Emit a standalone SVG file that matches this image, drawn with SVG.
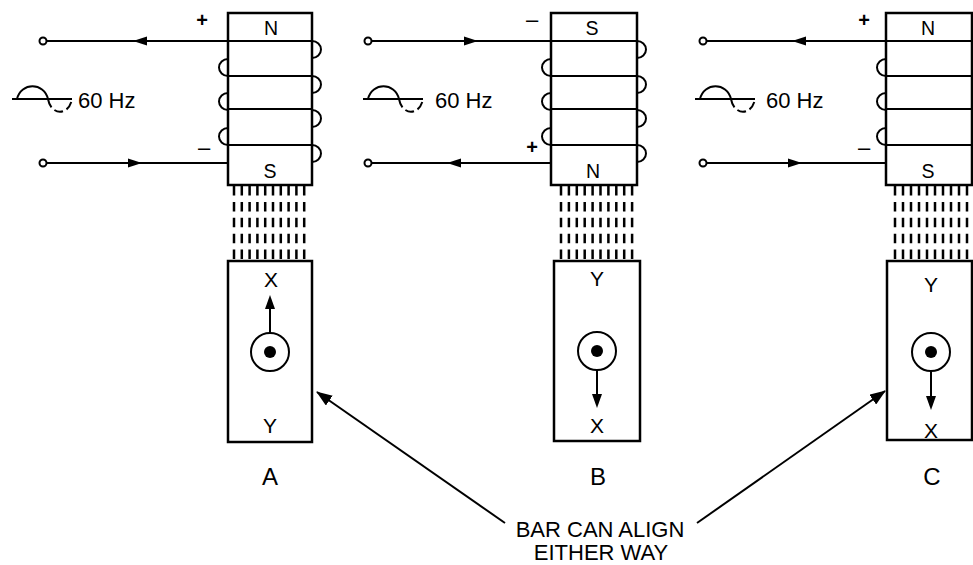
<svg xmlns="http://www.w3.org/2000/svg" width="973" height="565" viewBox="0 0 973 565">
<defs>
<style>
.ln{stroke:#000;stroke-width:2;fill:none}
.core{stroke:#000;stroke-width:2.5;fill:#fff}
.flux{stroke:#000;stroke-width:2.5;stroke-dasharray:9.5 6.4;fill:none}
.ah{fill:#000;stroke:none}
.term{stroke:#000;stroke-width:2;fill:#fff}
text{font-family:"Liberation Sans",Arial,sans-serif;fill:#000}
.pole{font-size:19.5px;text-anchor:middle}
.bl{font-size:21px;text-anchor:middle}
.hz{font-size:22px}
.sp{font-size:20px;text-anchor:middle;font-weight:bold}
.sm{font-size:22px;text-anchor:middle}
.pl{font-size:24px;text-anchor:middle}
.note{font-size:22px;text-anchor:middle}
</style>
<marker id="arr" viewBox="0 0 16 12" refX="15" refY="6" markerWidth="16" markerHeight="12" markerUnits="userSpaceOnUse" orient="auto">
<path d="M0,0 L16,6 L0,12 Z" fill="#000"/>
</marker>
<g id="sine">
<line x1="0" y1="0" x2="60" y2="0" class="ln"/>
<path d="M5,0 C9,-17 32,-17 36,0" class="ln"/>
<path d="M36,0 C39,17 57,17 60,0" class="ln" stroke-dasharray="9 4"/>
</g>
</defs>

<g id="panelA">
<g id="coreA">
<rect x="228" y="13" width="84" height="172" class="core"/>
<line x1="228" y1="41" x2="312" y2="41" class="ln"/>
<line x1="228" y1="76" x2="312" y2="76" class="ln"/>
<line x1="228" y1="109" x2="312" y2="109" class="ln"/>
<line x1="228" y1="145" x2="312" y2="145" class="ln"/>
<path d="M312,41 A9,8.5 0 0 1 312,58 M312,76 A9,8.5 0 0 1 312,93 M312,110 A9,8.5 0 0 1 312,127 M312,145 A9,8.5 0 0 1 312,162" class="ln"/>
<path d="M228,59 A9,8.5 0 0 0 228,76 M228,93 A9,8.5 0 0 0 228,110 M228,128 A9,8.5 0 0 0 228,145" class="ln"/>
<text x="271" y="35" class="pole">N</text>
<text x="270" y="178" class="pole">S</text>
</g>
<g id="wiresA">
<line x1="46" y1="41" x2="228" y2="41" class="ln"/>
<line x1="46" y1="163" x2="228" y2="163" class="ln"/>
<circle cx="43" cy="41" r="3.5" class="term"/>
<circle cx="43" cy="163" r="3.5" class="term"/>
<path d="M133,41 L147,36.5 L147,45.5 Z" class="ah"/>
<path d="M142,163 L128,158.5 L128,167.5 Z" class="ah"/>
<text x="202" y="27" class="sp">+</text>
<text x="204" y="155" class="sm">–</text>
<use href="#sine" x="12" y="99"/>
<text x="78" y="108" class="hz">60 Hz</text>
</g>
<g id="fluxA">
<path d="M234,186 V261 M241.8,186 V261 M249.6,186 V261 M257.4,186 V261 M265.2,186 V261 M273,186 V261 M280.8,186 V261 M288.6,186 V261 M296.4,186 V261 M304.2,186 V261" class="flux"/>
</g>
<g id="barA">
<rect x="228" y="261" width="84" height="181" class="core"/>
<text x="271" y="287" class="bl">X</text>
<circle cx="270" cy="352" r="19" class="ln"/>
<circle cx="270" cy="352" r="6" fill="#000"/>
<line x1="270" y1="333" x2="270" y2="305" class="ln"/>
<path d="M270,295 L265,309 L275,309 Z" class="ah"/>
<text x="270" y="433" class="bl">Y</text>
</g>
<text x="270" y="485" class="pl">A</text>
</g>

<g id="panelB">
<g id="coreB">
<rect x="551" y="13" width="86" height="172" class="core"/>
<line x1="551" y1="41" x2="637" y2="41" class="ln"/>
<line x1="551" y1="76" x2="637" y2="76" class="ln"/>
<line x1="551" y1="109" x2="637" y2="109" class="ln"/>
<line x1="551" y1="145" x2="637" y2="145" class="ln"/>
<path d="M637,41 A9,8.5 0 0 1 637,58 M637,76 A9,8.5 0 0 1 637,93 M637,110 A9,8.5 0 0 1 637,127 M637,145 A9,8.5 0 0 1 637,162" class="ln"/>
<path d="M551,59 A9,8.5 0 0 0 551,76 M551,93 A9,8.5 0 0 0 551,110 M551,128 A9,8.5 0 0 0 551,145" class="ln"/>
<text x="592" y="35" class="pole">S</text>
<text x="593" y="178" class="pole">N</text>
</g>
<g id="wiresB">
<line x1="371" y1="41" x2="551" y2="41" class="ln"/>
<line x1="371" y1="163" x2="551" y2="163" class="ln"/>
<circle cx="368" cy="41" r="3.5" class="term"/>
<circle cx="368" cy="163" r="3.5" class="term"/>
<path d="M478,41 L464,36.5 L464,45.5 Z" class="ah"/>
<path d="M447,163 L461,158.5 L461,167.5 Z" class="ah"/>
<text x="532" y="27" class="sm">–</text>
<text x="532" y="154" class="sp">+</text>
<use href="#sine" x="363" y="99"/>
<text x="435" y="108" class="hz">60 Hz</text>
</g>
<g id="fluxB">
<path d="M561,186 V261 M568.9,186 V261 M576.8,186 V261 M584.7,186 V261 M592.6,186 V261 M600.5,186 V261 M608.4,186 V261 M616.3,186 V261 M624.2,186 V261 M632.1,186 V261" class="flux"/>
</g>
<g id="barB">
<rect x="554" y="261" width="86" height="180" class="core"/>
<text x="597" y="286" class="bl">Y</text>
<circle cx="597" cy="351" r="19" class="ln"/>
<circle cx="597" cy="351" r="6" fill="#000"/>
<line x1="597" y1="370" x2="597" y2="398" class="ln"/>
<path d="M597,408 L592,394 L602,394 Z" class="ah"/>
<text x="597" y="433" class="bl">X</text>
</g>
<text x="598" y="485" class="pl">B</text>
</g>

<g id="panelC">
<g id="coreC">
<rect x="886" y="13" width="86" height="172" class="core"/>
<line x1="886" y1="41" x2="972" y2="41" class="ln"/>
<line x1="886" y1="76" x2="972" y2="76" class="ln"/>
<line x1="886" y1="109" x2="972" y2="109" class="ln"/>
<line x1="886" y1="145" x2="972" y2="145" class="ln"/>
<path d="M886,59 A9,8.5 0 0 0 886,76 M886,93 A9,8.5 0 0 0 886,110 M886,128 A9,8.5 0 0 0 886,145" class="ln"/>
<text x="928" y="35" class="pole">N</text>
<text x="928" y="178" class="pole">S</text>
</g>
<g id="wiresC">
<line x1="706" y1="41" x2="886" y2="41" class="ln"/>
<line x1="706" y1="163" x2="886" y2="163" class="ln"/>
<circle cx="703" cy="41" r="3.5" class="term"/>
<circle cx="703" cy="163" r="3.5" class="term"/>
<path d="M792,41 L806,36.5 L806,45.5 Z" class="ah"/>
<path d="M802,163 L788,158.5 L788,167.5 Z" class="ah"/>
<text x="864" y="27" class="sp">+</text>
<text x="864" y="155" class="sm">–</text>
<use href="#sine" x="695" y="99"/>
<text x="766" y="108" class="hz">60 Hz</text>
</g>
<g id="fluxC">
<path d="M895,186 V261 M903,186 V261 M911,186 V261 M919,186 V261 M927,186 V261 M935,186 V261 M943,186 V261 M951,186 V261 M959,186 V261 M967,186 V261" class="flux"/>
</g>
<g id="barC">
<rect x="887" y="261" width="85" height="179" class="core"/>
<text x="931" y="292" class="bl">Y</text>
<circle cx="931" cy="352" r="19" class="ln"/>
<circle cx="931" cy="352" r="6" fill="#000"/>
<line x1="931" y1="371" x2="931" y2="400" class="ln"/>
<path d="M931,410 L926,396 L936,396 Z" class="ah"/>
<text x="931" y="438" class="bl">X</text>
</g>
<text x="932" y="485" class="pl">C</text>
</g>

<g id="connectors">
<line x1="505" y1="523" x2="317" y2="392" class="ln" marker-end="url(#arr)"/>
<line x1="697" y1="523" x2="885" y2="391" class="ln" marker-end="url(#arr)"/>
</g>
<g id="note">
<text x="600" y="537" class="note">BAR CAN ALIGN</text>
<text x="601" y="560" class="note">EITHER WAY</text>
</g>
</svg>
